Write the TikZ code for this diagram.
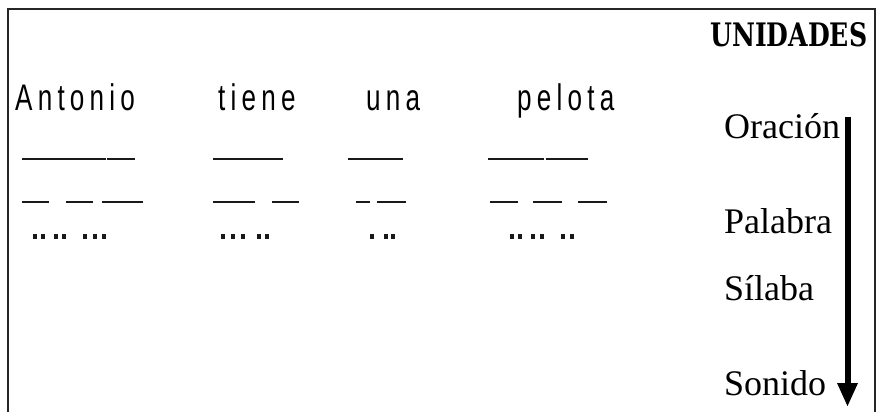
\documentclass[tikz,border=0pt]{standalone}
\usepackage{fontspec}
\usepackage{graphicx}
\usetikzlibrary{arrows.meta}
\setmainfont{Liberation Serif}
\newfontfamily\wordfont[LetterSpace=20]{Liberation Sans}
\newfontfamily\unifont{DejaVu Serif}
\begin{document}
\begin{tikzpicture}[x=1pt,y=-1pt,
  frameline/.style={line width=1.5pt,black!85},
  seg/.style={line width=2.5pt,black!90},
  word/.style={anchor=base west,inner sep=0pt,font=\fontsize{37}{40}\selectfont},
  unit/.style={anchor=base west,inner sep=0pt,font=\fontsize{36}{40}\selectfont},
  dotmark/.style={fill=black!90}]
\useasboundingbox (0,0) rectangle (877,412);
\fill[white] (0,0) rectangle (877,412);
% frame (open at the bottom)
\draw[frameline] (8,412) -- (8,9) -- (875,9) -- (875,412);
% title
\node[anchor=base west,inner sep=0pt] (title) at (710,47)
  {\resizebox{157pt}{24pt}{\unifont\bfseries UNIDADES}};
% words
\node[word] (w1) at (15,110) {\scalebox{0.705}[1]{\wordfont Antonio}};
\node[word] (w2) at (218,110) {\scalebox{0.705}[1]{\wordfont tiene}};
\node[word] (w3) at (366,110) {\scalebox{0.705}[1]{\wordfont una}};
\node[word] (w4) at (517,110) {\scalebox{0.705}[1]{\wordfont pelota}};
% units
\node[unit] (u1) at (724,138) {Oración};
\node[unit] (u2) at (724,233) {Palabra};
\node[unit] (u3) at (724,300) {Sílaba};
\node[unit] (u4) at (724,395) {Sonido};
% arrow
\coordinate (atop) at (847.5,117);
\coordinate (abot) at (847.5,407);
\draw[line width=6pt,-{Triangle[width=19pt,length=24pt]}] (atop) -- (abot);
% row 1 (oracion level)
\draw[seg] (22,159) -- (106,159);
\draw[seg] (107,159) -- (135,159);
\draw[seg] (213,159) -- (283,159);
\draw[seg] (348,159) -- (403,159);
\draw[seg] (488,159) -- (544,159);
\draw[seg] (546,159) -- (588,159);
% row 2 (silabas)
\draw[seg] (22,202) -- (49,202);
\draw[seg] (66,202) -- (93,202);
\draw[seg] (102,202) -- (143,202);
\draw[seg] (213,202) -- (255,202);
\draw[seg] (272,202) -- (299,202);
\draw[seg] (356,202) -- (370,202);
\draw[seg] (377,202) -- (406,202);
\draw[seg] (490,202) -- (518,202);
\draw[seg] (533,202) -- (562,202);
\draw[seg] (578,202) -- (607,202);
% row 3 (sonidos)
\foreach \x in {35,43,56,64,85,95,104,223,233,243,259,267,372,386,393,512,520,533,542,563,572}
  \fill[dotmark] (\x-1.6,233.5) rectangle (\x+1.6,238.5);
\end{tikzpicture}
\end{document}
